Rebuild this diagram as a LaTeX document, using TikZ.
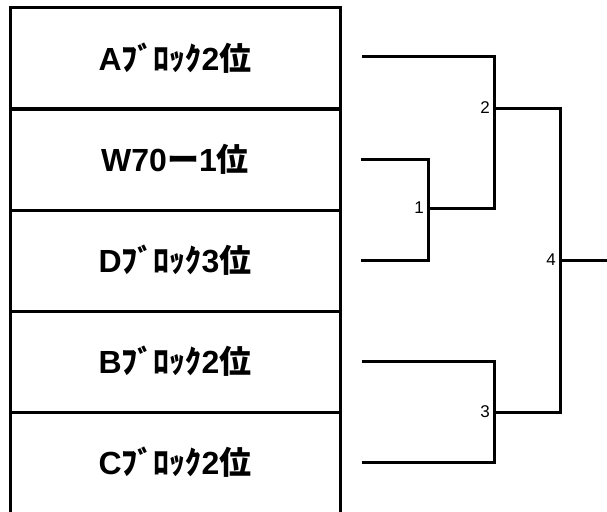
\documentclass[tikz,border=0pt]{standalone}
\usepackage{fontspec}
\newfontfamily\jp{Noto Sans CJK JP}
\newfontfamily\lat{Liberation Sans}
\newcommand\Jtxt[1]{{\jp\bfseries #1}}
\begin{document}
\begin{tikzpicture}[x=1pt,y=-1pt,
  entry/.style={draw,line width=3pt,minimum width=330pt,minimum height=101pt,inner sep=0pt,
    font=\lat\bfseries\fontsize{32}{33}\selectfont},
  wire/.style={line width=3pt},
  num/.style={anchor=east,inner sep=0pt,xshift=-4pt,font=\lat\fontsize{17}{18}\selectfont}]
\useasboundingbox (0,0) rectangle (607,511);
\node[entry] (A) at (175,58) {A\Jtxt{ﾌﾞﾛｯｸ}2\Jtxt{位}};
\node[entry] (W) at (175,159.5) {W70\Jtxt{ー}1\Jtxt{位}};
\node[entry] (D) at (175,260.5) {D\Jtxt{ﾌﾞﾛｯｸ}3\Jtxt{位}};
\node[entry] (B) at (175,361.5) {B\Jtxt{ﾌﾞﾛｯｸ}2\Jtxt{位}};
\node[entry] (C) at (175,462.5) {C\Jtxt{ﾌﾞﾛｯｸ}2\Jtxt{位}};
\coordinate (aL) at (362,57);
\coordinate (wL) at (361,159);
\coordinate (dL) at (361,260);
\coordinate (bL) at (362,361);
\coordinate (cL) at (362,462);
\coordinate (m1) at (428,208);
\coordinate (m2) at (494,108);
\coordinate (m3) at (494,412);
\coordinate (m4) at (560,260);
\coordinate (out) at (610,260);
\draw[wire] (wL) -| (m1) |- (dL);
\draw[wire] (aL) -| (m2);
\draw[wire] (m1) -| (m2);
\draw[wire] (bL) -| (m3) |- (cL);
\draw[wire] (m2) -| (m4);
\draw[wire] (m3) -| (m4);
\draw[wire] (m4) -- (out);
\node[num] (n1) at (m1) {1};
\node[num] (n2) at (m2) {2};
\node[num] (n3) at (m3) {3};
\node[num] (n4) at (m4) {4};
\end{tikzpicture}
\end{document}
